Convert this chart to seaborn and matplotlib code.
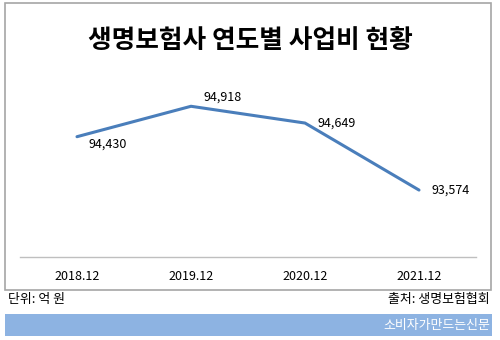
import matplotlib
matplotlib.use("Agg")
import matplotlib.pyplot as plt
import seaborn as sns
import pandas as pd
from matplotlib.patches import Rectangle

categories = ["2018.12", "2019.12", "2020.12", "2021.12"]
values = [94430, 94918, 94649, 93574]
value_labels = ["94,430", "94,918", "94,649", "93,574"]

sns.set_theme(style="white")
plt.rcParams['font.family'] = ['Noto Sans CJK KR', 'DejaVu Sans']

fig = plt.figure(figsize=(5, 3.4), dpi=100)
W, H = 500, 340

def fx(x): return x / W
def fy(y): return 1 - y / H

# outer border
fig.patches.append(Rectangle((fx(5), fy(290)), fx(491) - fx(5), fy(3) - fy(290),
                             transform=fig.transFigure, fill=False, edgecolor="#A6A6A6", lw=1.2))
# blue footer band
fig.patches.append(Rectangle((fx(5), fy(336)), fx(492) - fx(5), fy(314) - fy(336),
                             transform=fig.transFigure, facecolor="#8DB3E2", edgecolor="none"))

ax = fig.add_axes([fx(20), fy(257), fx(476) - fx(20), fy(70) - fy(257)])
df = pd.DataFrame({"x": range(len(categories)), "v": values})
sns.lineplot(data=df, x="x", y="v", ax=ax, color="#4A7EBB", lw=2.2)
ax.set_xlim(-0.5, 3.5)
ax.set_ylim(92500, 95500)
ax.set_xticks(range(len(categories)))
ax.set_xticklabels(categories, fontsize=9, color="#000000")
ax.tick_params(axis="x", length=0, pad=9)
ax.set_yticks([])
ax.set_xlabel("")
ax.set_ylabel("")
for s in ["top", "left", "right"]:
    ax.spines[s].set_visible(False)
ax.spines["bottom"].set_color("#BFBFBF")
ax.spines["bottom"].set_linewidth(1)
ax.patch.set_alpha(0)

offsets = [(8, -1, "top"), (9, 2, "bottom"), (9, 0, "center"), (9, 0, "center")]
for i, (v, lab) in enumerate(zip(values, value_labels)):
    dx, dy, va = offsets[i]
    ax.annotate(lab, (i, v), xytext=(dx, dy), textcoords="offset points",
                fontsize=9, ha="left", va=va, color="#000000")

fig.text(0.5, fy(40), "생명보험사 연도별 사업비 현황", ha="center", va="center",
         fontsize=18.5, fontweight="bold", color="#000000")
fig.text(fx(8), fy(300), "단위: 억 원", ha="left", va="center", fontsize=9.3, color="#000000")
fig.text(fx(490), fy(300), "출처: 생명보험협회", ha="right", va="center", fontsize=9.3, color="#000000")
fig.text(fx(490), fy(325), "소비자가만드는신문", ha="right", va="center", fontsize=9.3, color="#FFFFFF")

fig.savefig("out.png", dpi=100)
